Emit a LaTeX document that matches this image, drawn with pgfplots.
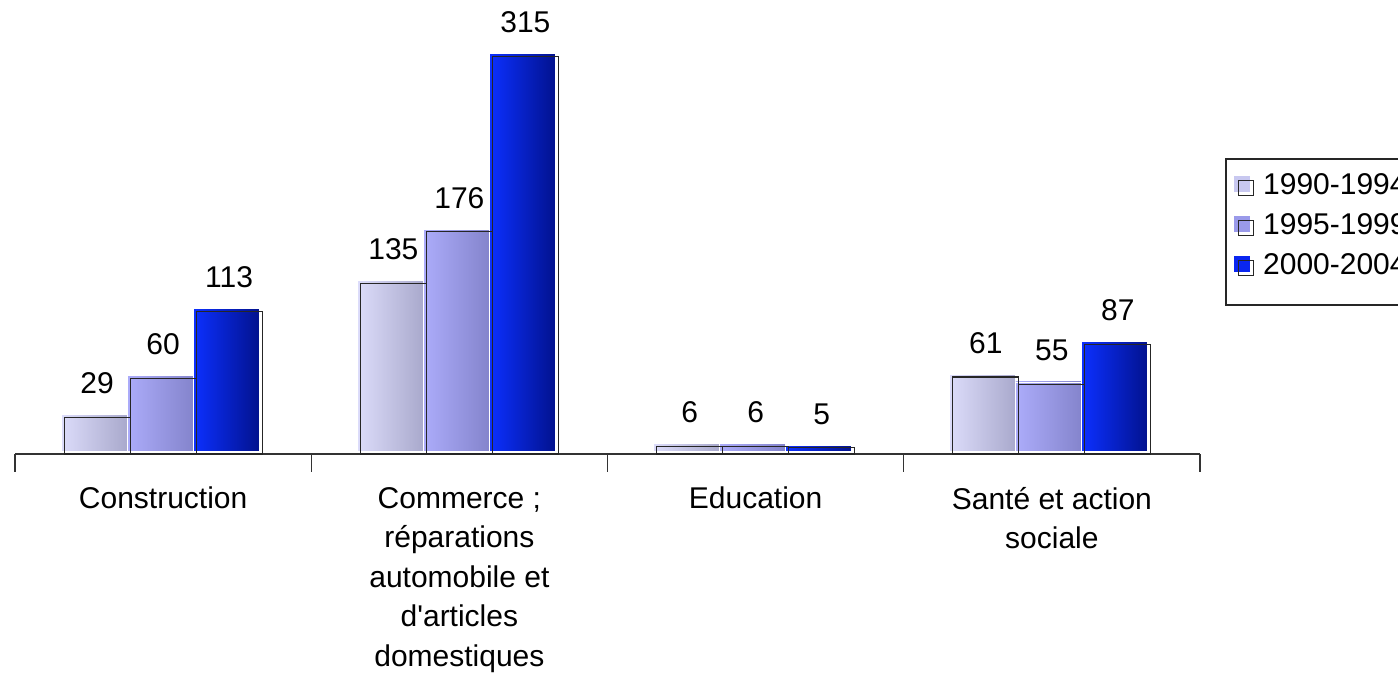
\documentclass[border=0pt]{standalone}
\usepackage{pgfplots}
\pgfplotsset{compat=1.18}
\usepackage{fontspec}
\setmainfont{Liberation Sans}
\definecolor{aL}{HTML}{DCDCFA}\definecolor{aR}{HTML}{A9A9CC}
\definecolor{bL}{HTML}{ACACFA}\definecolor{bR}{HTML}{8484CC}
\definecolor{cL}{HTML}{0C30FF}\definecolor{cR}{HTML}{02128E}
\definecolor{aM}{HTML}{C8C8F0}\definecolor{bM}{HTML}{9A9AEA}\definecolor{cM}{HTML}{0A26F0}
\pgfplotsset{
  fillbar/.style 2 args={forget plot, draw=white, line width=0.4pt, left color=#1, right color=#2, transform canvas={yshift=1.3pt}},
  outbar/.style={forget plot, draw=black!85, line width=0.6pt, fill=none, nodes near coords},
}
\begin{document}
\begin{tikzpicture}
\useasboundingbox (0,0) rectangle (699pt,336.5pt);
\begin{axis}[
  at={(7.5pt,109.5pt)}, anchor=south west,
  scale only axis, width=592.5pt, height=214.7pt,
  xmin=-0.5, xmax=3.5, ymin=0, ymax=340,
  enlargelimits=false, clip=false,
  /pgf/number format/assume math mode=true,
  axis x line*=bottom, axis y line=none,
  x axis line style={-, black!80, line width=0.6pt},
  xtick={0,1,2,3},
  xticklabels={Construction, {Commerce ;\\réparations\\automobile et\\d\textquotesingle articles\\domestiques}, Education, {Santé et action\\sociale}},
  major tick length=0pt,
  xticklabel style={align=center, font=\fontsize{15}{19.75}\selectfont, yshift=-13pt},
  extra x ticks={-0.5,0.5,1.5,2.5,3.5},
  extra x tick labels={},
  extra x tick style={major tick length=9pt, tick align=outside, tick style={black!80, line width=0.6pt}},
  ybar, bar width=33pt,
  nodes near coords style={font=\fontsize{15}{18}\selectfont, yshift=8pt},
  legend style={at={(1.0219,0.687)}, anchor=north west, draw=none, fill=none,
    font=\fontsize{15}{18}\selectfont, row sep=4pt, inner xsep=4pt, inner ysep=5pt},
  legend cell align=left,
]
% shadow-offset fills, one bar each so every bar has its own gradient
\addplot[fillbar={aL}{aR}, bar shift=-34.5pt] coordinates {(0,29)};
\addplot[fillbar={aL}{aR}, bar shift=-34.5pt] coordinates {(1,135)};
\addplot[fillbar={aL}{aR}, bar shift=-34.5pt] coordinates {(2,6)};
\addplot[fillbar={aL}{aR}, bar shift=-34.5pt] coordinates {(3,61)};
\addplot[fillbar={bL}{bR}, bar shift=-1.5pt] coordinates {(0,60)};
\addplot[fillbar={bL}{bR}, bar shift=-1.5pt] coordinates {(1,176)};
\addplot[fillbar={bL}{bR}, bar shift=-1.5pt] coordinates {(2,6)};
\addplot[fillbar={bL}{bR}, bar shift=-1.5pt] coordinates {(3,55)};
\addplot[fillbar={cL}{cR}, bar shift=31.5pt] coordinates {(0,113)};
\addplot[fillbar={cL}{cR}, bar shift=31.5pt] coordinates {(1,315)};
\addplot[fillbar={cL}{cR}, bar shift=31.5pt] coordinates {(2,5)};
\addplot[fillbar={cL}{cR}, bar shift=31.5pt] coordinates {(3,87)};
% outlines with value labels
\addplot[outbar, bar shift=-33pt] coordinates {(0,29) (1,135) (2,6) (3,61)};
\addplot[outbar, bar shift=0pt] coordinates {(0,60) (1,176) (2,6) (3,55)};
\addplot[outbar, bar shift=33pt] coordinates {(0,113) (1,315) (2,5) (3,87)};
\addlegendimage{legend image code/.code={\fill[aM] (-2pt,-3pt) rectangle (5.5pt,4.5pt); \draw[black!85,line width=0.5pt] (0pt,-5pt) rectangle (7.5pt,2.5pt); \path (10pt,0pt);}}
\addlegendentry{1990-1994}
\addlegendimage{legend image code/.code={\fill[bM] (-2pt,-3pt) rectangle (5.5pt,4.5pt); \draw[black!85,line width=0.5pt] (0pt,-5pt) rectangle (7.5pt,2.5pt); \path (10pt,0pt);}}
\addlegendentry{1995-1999}
\addlegendimage{legend image code/.code={\fill[cM] (-2pt,-3pt) rectangle (5.5pt,4.5pt); \draw[black!85,line width=0.5pt] (0pt,-5pt) rectangle (7.5pt,2.5pt); \path (10pt,0pt);}}
\addlegendentry{2000-2004}
\end{axis}
% legend frame (extends past the right edge, as in the reference)
\draw[black!85, line width=0.7pt] (613pt,257pt) rectangle (730pt,184pt);
\end{tikzpicture}
\end{document}
